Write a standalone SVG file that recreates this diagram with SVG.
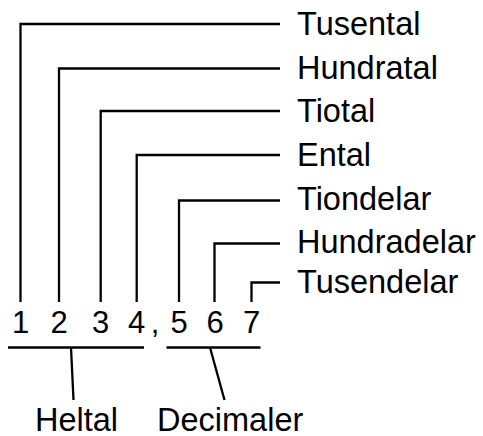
<svg xmlns="http://www.w3.org/2000/svg" width="483" height="436" viewBox="0 0 483 436">
<style>
.ln{fill:none;stroke:#000;stroke-width:2.3;stroke-linecap:butt;stroke-linejoin:miter}
.lb{font-family:"Liberation Sans",Arial,Helvetica,sans-serif;font-size:32.5px;fill:#000}
.dg{font-family:"Liberation Sans",Arial,Helvetica,sans-serif;font-size:31px;fill:#000;text-anchor:middle}
</style>
<rect width="483" height="436" fill="#fff"/>
<g id="connectors">
<polyline class="ln" points="20.5,302 20.5,24 280,24"/>
<polyline class="ln" points="59,302 59,68.5 280,68.5"/>
<polyline class="ln" points="100.7,302 100.7,111 280,111"/>
<polyline class="ln" points="136.7,302 136.7,155 280,155"/>
<polyline class="ln" points="179,302 179,200.5 280,200.5"/>
<polyline class="ln" points="214.5,302 214.5,243.5 280,243.5"/>
<polyline class="ln" points="251.5,302 251.5,282.5 280,282.5"/>
<line class="ln" x1="8" y1="347.5" x2="144" y2="347.5"/>
<line class="ln" x1="166.5" y1="347.5" x2="260.5" y2="347.5"/>
<line class="ln" x1="71" y1="347.5" x2="73.5" y2="400"/>
<line class="ln" x1="210" y1="347.5" x2="224.5" y2="400"/>
</g>
<g id="tusental"><text class="lb" x="297" y="35">Tusental</text></g>
<g id="hundratal"><text class="lb" x="297" y="78.5">Hundratal</text></g>
<g id="tiotal"><text class="lb" x="297" y="122">Tiotal</text></g>
<g id="ental"><text class="lb" x="297" y="165.5">Ental</text></g>
<g id="tiondelar"><text class="lb" x="297" y="210">Tiondelar</text></g>
<g id="hundradelar"><text class="lb" x="297" y="253">Hundradelar</text></g>
<g id="tusendelar"><text class="lb" x="297" y="292.5">Tusendelar</text></g>
<g id="number">
<text class="dg" x="20.5" y="333">1</text>
<text class="dg" x="59" y="333">2</text>
<text class="dg" x="100.7" y="333">3</text>
<text class="dg" x="136.7" y="333">4</text>
<text class="dg" x="155" y="333">,</text>
<text class="dg" x="179" y="333">5</text>
<text class="dg" x="215" y="333">6</text>
<text class="dg" x="251.5" y="333">7</text>
</g>
<g id="heltal"><text class="lb" x="35" y="430.5">Heltal</text></g>
<g id="decimaler"><text class="lb" x="157" y="430.5">Decimaler</text></g>
</svg>
